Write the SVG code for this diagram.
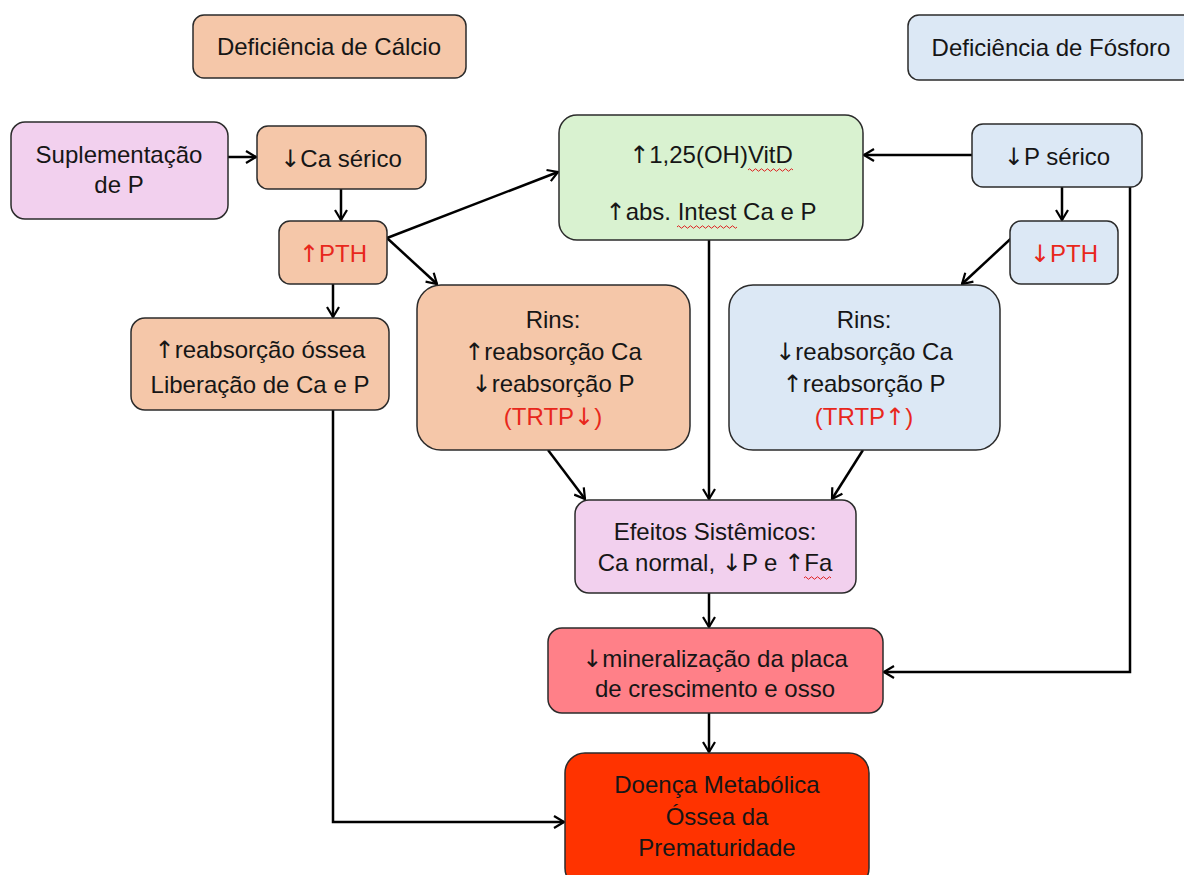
<svg xmlns="http://www.w3.org/2000/svg" width="1184" height="875" viewBox="0 0 1184 875">
  <style>
    .box { stroke: #2b2b2b; stroke-width: 1.5; }
    .peach { fill: #f5c7a9; }
    .blue { fill: #dce8f5; }
    .lav { fill: #f2d0ee; }
    .green { fill: #d9f2d0; }
    .rose { fill: #ff8088; }
    .red { fill: #ff3300; }
    text { font-family: "Liberation Sans", Arial, sans-serif; font-size: 24px; fill: #161616; text-anchor: middle; }
    .ar { font-family: "DejaVu Sans", sans-serif; font-weight: normal; }
    .hot { fill: #e8271c; }
    .edge { fill: none; stroke: #000; stroke-width: 2.5; }
    .squig { fill: none; stroke: #e02020; stroke-width: 1; }
  </style>
  <defs>
    <marker id="arr" viewBox="0 0 12 14" refX="11" refY="7" markerWidth="12" markerHeight="14" markerUnits="userSpaceOnUse" orient="auto">
      <path d="M1,1 L11,7 L1,13" fill="none" stroke="#000" stroke-width="2.2"/>
    </marker>
  </defs>
  <rect width="1184" height="875" fill="#fff"/>

  <g id="connectors">
    <line class="edge" x1="228" y1="157" x2="256" y2="157" marker-end="url(#arr)"/>
    <line class="edge" x1="341" y1="189" x2="341" y2="220" marker-end="url(#arr)"/>
    <line class="edge" x1="387" y1="238" x2="558" y2="172" marker-end="url(#arr)"/>
    <line class="edge" x1="387" y1="238" x2="437" y2="284" marker-end="url(#arr)"/>
    <line class="edge" x1="333" y1="284" x2="333" y2="317" marker-end="url(#arr)"/>
    <polyline class="edge" points="333,410 333,822 564,822" marker-end="url(#arr)"/>
    <line class="edge" x1="709" y1="240" x2="709" y2="499" marker-end="url(#arr)"/>
    <line class="edge" x1="972" y1="155" x2="864" y2="155" marker-end="url(#arr)"/>
    <line class="edge" x1="1062" y1="187" x2="1062" y2="220" marker-end="url(#arr)"/>
    <line class="edge" x1="1018" y1="232" x2="962" y2="284" marker-end="url(#arr)"/>
    <polyline class="edge" points="1130,187 1130,672 884,672" marker-end="url(#arr)"/>
    <line class="edge" x1="548" y1="450" x2="585" y2="499" marker-end="url(#arr)"/>
    <line class="edge" x1="863" y1="450" x2="832" y2="499" marker-end="url(#arr)"/>
    <line class="edge" x1="709" y1="593" x2="709" y2="627" marker-end="url(#arr)"/>
    <line class="edge" x1="709" y1="713" x2="709" y2="752" marker-end="url(#arr)"/>
  </g>

  <g id="def-calcio">
    <rect class="box peach" x="193" y="15" width="273" height="63" rx="11"/>
    <text x="329" y="55">Deficiência de Cálcio</text>
  </g>
  <g id="def-fosforo">
    <rect class="box blue" x="908" y="15" width="290" height="65" rx="11"/>
    <text x="1051" y="56">Deficiência de Fósforo</text>
  </g>
  <g id="suplementacao">
    <rect class="box lav" x="11" y="122" width="217" height="97" rx="14"/>
    <text x="119" y="163">Suplementação</text>
    <text x="119" y="193">de P</text>
  </g>
  <g id="ca-serico">
    <rect class="box peach" x="257" y="126" width="169" height="63" rx="11"/>
    <text x="341" y="167"><tspan class="ar">↓</tspan>Ca sérico</text>
  </g>
  <g id="pth-up">
    <rect class="box peach" x="279" y="221" width="108" height="63" rx="11"/>
    <text class="hot" x="333" y="262"><tspan class="ar">↑</tspan>PTH</text>
  </g>
  <g id="reabsorcao-ossea">
    <rect class="box peach" x="131" y="318" width="258" height="92" rx="14"/>
    <text x="260" y="358"><tspan class="ar">↑</tspan>reabsorção óssea</text>
    <text x="260" y="393">Liberação de Ca e P</text>
  </g>
  <g id="vitd">
    <rect class="box green" x="559" y="115" width="304" height="125" rx="18"/>
    <text x="711" y="163"><tspan class="ar">↑</tspan>1,25(OH)VitD</text>
    <path class="squig" d="M748,170 q1.5,-2.5 3,0 t3,0 t3,0 t3,0 t3,0 t3,0 t3,0 t3,0 t3,0 t3,0 t3,0 t3,0 t3,0 t3,0 t3,0"/>
    <text x="711" y="220"><tspan class="ar">↑</tspan>abs. Intest Ca e P</text>
    <path class="squig" d="M677,227 q1.5,-2.5 3,0 t3,0 t3,0 t3,0 t3,0 t3,0 t3,0 t3,0 t3,0 t3,0 t3,0 t3,0 t3,0 t3,0 t3,0 t3,0 t3,0 t3,0 t3,0 t3,0"/>
  </g>
  <g id="p-serico">
    <rect class="box blue" x="972" y="124" width="170" height="63" rx="11"/>
    <text x="1057" y="165"><tspan class="ar">↓</tspan>P sérico</text>
  </g>
  <g id="pth-down">
    <rect class="box blue" x="1010" y="221" width="108" height="63" rx="11"/>
    <text class="hot" x="1064" y="262"><tspan class="ar">↓</tspan>PTH</text>
  </g>
  <g id="rins-ca">
    <rect class="box peach" x="417" y="285" width="273" height="165" rx="24"/>
    <text x="553" y="328">Rins:</text>
    <text x="553" y="360"><tspan class="ar">↑</tspan>reabsorção Ca</text>
    <text x="553" y="392"><tspan class="ar">↓</tspan>reabsorção P</text>
    <text class="hot" x="553" y="425">(TRTP<tspan class="ar">↓</tspan>)</text>
  </g>
  <g id="rins-p">
    <rect class="box blue" x="729" y="285" width="271" height="165" rx="24"/>
    <text x="864" y="328">Rins:</text>
    <text x="864" y="360"><tspan class="ar">↓</tspan>reabsorção Ca</text>
    <text x="864" y="392"><tspan class="ar">↑</tspan>reabsorção P</text>
    <text class="hot" x="864" y="425">(TRTP<tspan class="ar">↑</tspan>)</text>
  </g>
  <g id="efeitos">
    <rect class="box lav" x="575" y="500" width="281" height="93" rx="14"/>
    <text x="715" y="540">Efeitos Sistêmicos:</text>
    <text x="715" y="571">Ca normal, <tspan class="ar">↓</tspan>P e <tspan class="ar">↑</tspan>Fa</text>
    <path class="squig" d="M804,578 q1.5,-2.5 3,0 t3,0 t3,0 t3,0 t3,0 t3,0 t3,0 t3,0 t3,0"/>
  </g>
  <g id="mineralizacao">
    <rect class="box rose" x="548" y="628" width="335" height="85" rx="14"/>
    <text x="715" y="667"><tspan class="ar">↓</tspan>mineralização da placa</text>
    <text x="715" y="697">de crescimento e osso</text>
  </g>
  <g id="doenca">
    <rect class="box red" x="565" y="753" width="304" height="135" rx="20"/>
    <text x="717" y="793">Doença Metabólica</text>
    <text x="717" y="825">Óssea da</text>
    <text x="717" y="856">Prematuridade</text>
  </g>
</svg>
